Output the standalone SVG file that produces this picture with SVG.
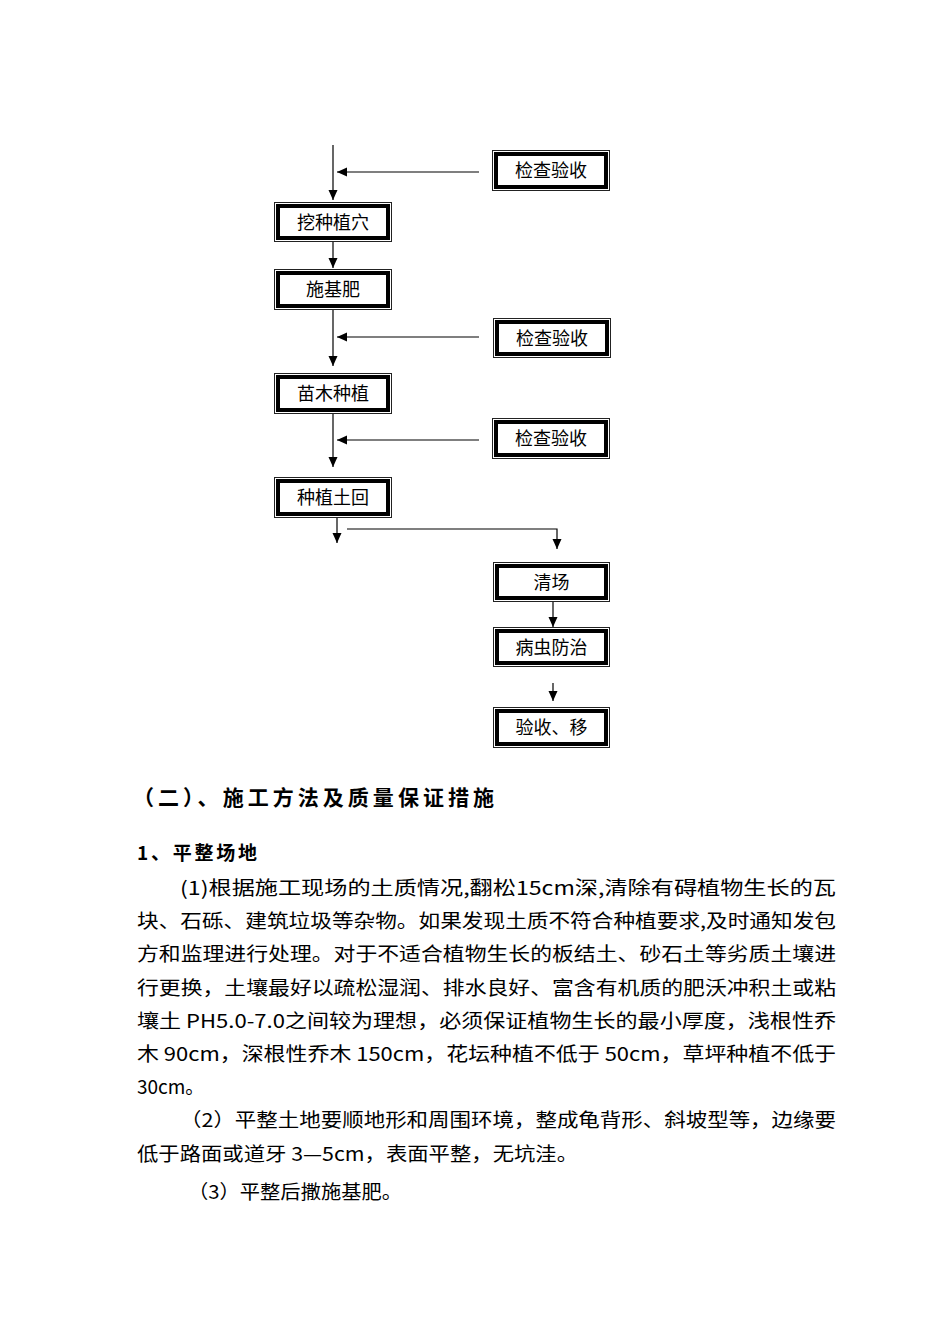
<svg xmlns="http://www.w3.org/2000/svg" width="950" height="1344" viewBox="0 0 950 1344">
<style>
.o{fill:#fff;stroke:#222;stroke-width:1}
.i{fill:none;stroke:#000;stroke-width:4}
.bt{font-family:"Noto Sans CJK SC","Noto Sans",sans-serif;font-size:18px;fill:#000;text-anchor:middle}
.c{stroke:#000;stroke-width:1.2;fill:none}
.h{font-family:"Noto Sans CJK SC","Noto Sans",sans-serif;font-weight:bold;fill:#000}
.p{font-family:"Noto Sans CJK SC","Noto Sans",sans-serif;font-size:19px;fill:#000}
</style>
<defs>
<marker id="ah" markerUnits="userSpaceOnUse" markerWidth="10" markerHeight="10" refX="10" refY="4.5" orient="auto">
<path d="M0,0 L10,4.5 L0,9 z" fill="#000"/>
</marker>
</defs>
<rect width="950" height="1344" fill="#fff"/>
<g id="connectors">
<line class="c" x1="333" y1="145" x2="333" y2="200" marker-end="url(#ah)"/>
<line class="c" x1="479" y1="172" x2="337" y2="172" marker-end="url(#ah)"/>
<line class="c" x1="333" y1="242" x2="333" y2="268" marker-end="url(#ah)"/>
<line class="c" x1="333" y1="310" x2="333" y2="366" marker-end="url(#ah)"/>
<line class="c" x1="479" y1="337" x2="337" y2="337" marker-end="url(#ah)"/>
<line class="c" x1="333" y1="414" x2="333" y2="467" marker-end="url(#ah)"/>
<line class="c" x1="479" y1="440" x2="337" y2="440" marker-end="url(#ah)"/>
<line class="c" x1="337" y1="518" x2="337" y2="543" marker-end="url(#ah)"/>
<polyline class="c" points="347,529 557,529 557,549" marker-end="url(#ah)"/>
<line class="c" x1="553" y1="602" x2="553" y2="627" marker-end="url(#ah)"/>
<line class="c" x1="553" y1="683" x2="553" y2="701" marker-end="url(#ah)"/>
</g>
<g id="n1"><rect class="o" x="492.5" y="150.5" width="117" height="40"/><rect class="i" x="496" y="154" width="110" height="33"/><text class="bt" x="551" y="177">检查验收</text></g>
<g id="n2"><rect class="o" x="274.5" y="202.5" width="117" height="39"/><rect class="i" x="278" y="206" width="110" height="32"/><text class="bt" x="333" y="228.5">挖种植穴</text></g>
<g id="n3"><rect class="o" x="274.5" y="269.5" width="117" height="40"/><rect class="i" x="278" y="273" width="110" height="33"/><text class="bt" x="333" y="296">施基肥</text></g>
<g id="n4"><rect class="o" x="493.5" y="318.5" width="117" height="39"/><rect class="i" x="497" y="322" width="110" height="32"/><text class="bt" x="552" y="344.5">检查验收</text></g>
<g id="n5"><rect class="o" x="274.5" y="373.5" width="117" height="40"/><rect class="i" x="278" y="377" width="110" height="33"/><text class="bt" x="333" y="400">苗木种植</text></g>
<g id="n6"><rect class="o" x="492.5" y="418.5" width="117" height="40"/><rect class="i" x="496" y="422" width="110" height="33"/><text class="bt" x="551" y="445">检查验收</text></g>
<g id="n7"><rect class="o" x="274.5" y="477.5" width="117" height="40"/><rect class="i" x="278" y="481" width="110" height="33"/><text class="bt" x="333" y="504">种植土回</text></g>
<g id="n8"><rect class="o" x="493.5" y="562.5" width="116" height="39"/><rect class="i" x="497" y="566" width="109" height="32"/><text class="bt" x="551.5" y="588.5">清场</text></g>
<g id="n9"><rect class="o" x="493.5" y="627.5" width="116" height="39"/><rect class="i" x="497" y="631" width="109" height="32"/><text class="bt" x="551.5" y="653.5">病虫防治</text></g>
<g id="n10"><rect class="o" x="493.5" y="707.5" width="116" height="40"/><rect class="i" x="497" y="711" width="109" height="33"/><text class="bt" x="551.5" y="734">验收、移</text></g>
<g id="body">
<text class="h" x="133" y="805" font-size="21" textLength="361" lengthAdjust="spacing">（二）、施工方法及质量保证措施</text>
<text class="h" x="137" y="860" font-size="19" textLength="120" lengthAdjust="spacing">1、平整场地</text>
<text class="p" x="180" y="895" textLength="656" lengthAdjust="spacingAndGlyphs">(1)根据施工现场的土质情况,翻松15cm深,清除有碍植物生长的瓦</text>
<text class="p" x="137" y="928" textLength="699" lengthAdjust="spacingAndGlyphs">块、石砾、建筑垃圾等杂物。如果发现土质不符合种植要求,及时通知发包</text>
<text class="p" x="137" y="961" textLength="699" lengthAdjust="spacingAndGlyphs">方和监理进行处理。对于不适合植物生长的板结土、砂石土等劣质土壤进</text>
<text class="p" x="137" y="995" textLength="699" lengthAdjust="spacingAndGlyphs">行更换，土壤最好以疏松湿润、排水良好、富含有机质的肥沃冲积土或粘</text>
<text class="p" x="137" y="1028" textLength="699" lengthAdjust="spacingAndGlyphs">壤土 PH5.0-7.0之间较为理想，必须保证植物生长的最小厚度，浅根性乔</text>
<text class="p" x="137" y="1061" textLength="699" lengthAdjust="spacingAndGlyphs">木 90cm，深根性乔木 150cm，花坛种植不低于 50cm，草坪种植不低于</text>
<text class="p" x="137" y="1094">30cm。</text>
<text class="p" x="180" y="1127" textLength="656" lengthAdjust="spacingAndGlyphs">（2）平整土地要顺地形和周围环境，整成龟背形、斜坡型等，边缘要</text>
<text class="p" x="137" y="1161" textLength="441" lengthAdjust="spacingAndGlyphs">低于路面或道牙 3—5cm，表面平整，无坑洼。</text>
<text class="p" x="188" y="1199" textLength="214" lengthAdjust="spacingAndGlyphs">（3）平整后撒施基肥。</text>
</g>
</svg>
